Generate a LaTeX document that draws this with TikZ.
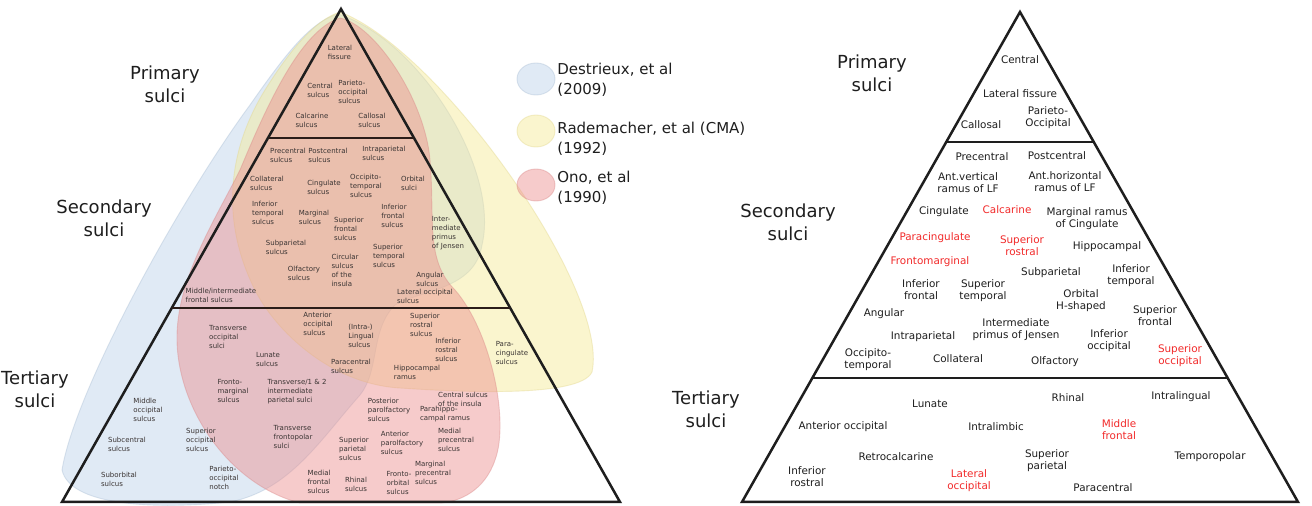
\documentclass[tikz,border=0pt]{standalone}
\usepackage{fontspec}
\setmainfont{DejaVu Sans}
\usepackage{tikz}
\usetikzlibrary{calc}
\definecolor{ink}{HTML}{1E1E1E}
\definecolor{ink2}{HTML}{3A3433}
\definecolor{edge}{HTML}{2B1D19}
\definecolor{hot}{HTML}{F22A2A}
\definecolor{dblue}{HTML}{BCD2EB}
\definecolor{dblueline}{HTML}{A9BDD3}
\definecolor{ryel}{HTML}{F5EA96}
\definecolor{ryelline}{HTML}{E2D68A}
\definecolor{opink}{HTML}{EC8E8E}
\definecolor{opinkline}{HTML}{D98686}

\tikzset{
  tri/.style={line width=1.25pt,color=ink,line join=miter},
  small/.style={font=\fontsize{3.5}{4.5}\selectfont,text=ink2,align=left,inner sep=0pt},
  lbl/.style={font=\fontsize{5.2}{6}\selectfont,text=ink,align=center,inner sep=0pt},
  hotlbl/.style={lbl,text=hot},
  big/.style={font=\fontsize{9}{11.5}\selectfont,text=ink,align=center,inner sep=0pt},
  legtext/.style={font=\fontsize{7.5}{10}\selectfont,text=ink,align=left,anchor=west,inner sep=0pt},
  blob/.style={line width=0.45pt,fill opacity=0.46,draw opacity=0.4},
}

\begin{document}
\begin{tikzpicture}[x=0.5pt,y=-0.5pt]
  \useasboundingbox (0,0) rectangle (1312,506);
  \fill[white] (0,0) rectangle (1312,506);

  % left pyramid
  \coordinate (lt) at (341,9);
  \coordinate (ll) at (62,502);
  \coordinate (lr) at (620,502);

  \filldraw[blob,fill=dblue,draw=dblueline]
    (338,14) .. controls (420,40) and (500,170) .. (482,245)
    .. controls (475,290) and (420,290) .. (395,305)
    .. controls (370,330) and (380,370) .. (360,395)
    .. controls (320,440) and (290,490) .. (230,502)
    .. controls (150,510) and (70,505) .. (62,470)
    .. controls (75,390) and (180,200) .. (250,105)
    .. controls (285,55) and (310,22) .. (338,14) -- cycle;
  \filldraw[blob,fill=ryel,draw=ryelline]
    (340,12) .. controls (440,50) and (610,290) .. (592,372)
    .. controls (580,398) and (460,392) .. (400,388)
    .. controls (330,384) and (275,330) .. (255,290)
    .. controls (220,220) and (228,150) .. (265,90)
    .. controls (290,50) and (315,20) .. (340,12) -- cycle;
  \filldraw[blob,fill=opink,draw=opinkline]
    (340,18) .. controls (375,25) and (425,100) .. (430,160)
    .. controls (435,220) and (425,260) .. (455,290)
    .. controls (490,330) and (510,420) .. (495,460)
    .. controls (485,490) and (460,502) .. (440,503)
    -- (300,503) .. controls (230,485) and (178,410) .. (177,340)
    .. controls (176,280) and (215,220) .. (240,170)
    .. controls (265,110) and (300,30) .. (340,18) -- cycle;

  \draw[tri] (lt) -- (lr) -- (ll) -- cycle;
  \foreach \fr in {0.2617,0.6065}
    \draw[tri,color=edge] ($(lt)!\fr!(ll)$) -- ($(lt)!\fr!(lr)$);

  \node[big] (lprim) at (165,84) {Primary\\sulci};
  \node[big] (lsec) at (104,218) {Secondary\\sulci};
  \node[big] (lter) at (35,389) {Tertiary\\sulci};

  \node[small] (l-latfis) at (340,52) {Lateral\\fissure};
  \node[small] (l-central) at (320,90) {Central\\sulcus};
  \node[small] (l-parocc) at (353,92) {Parieto-\\occipital\\sulcus};
  \node[small] (l-calc) at (312,120) {Calcarine\\sulcus};
  \node[small] (l-call) at (372,120) {Callosal\\sulcus};

  \node[small] (l-prec) at (288,155) {Precentral\\sulcus};
  \node[small] (l-postc) at (328,155) {Postcentral\\sulcus};
  \node[small] (l-intrap) at (384,153) {Intraparietal\\sulcus};
  \node[small] (l-coll) at (267,183) {Collateral\\sulcus};
  \node[small] (l-cing) at (324,187) {Cingulate\\sulcus};
  \node[small] (l-occt) at (366,186) {Occipito-\\temporal\\sulcus};
  \node[small] (l-orb) at (413,183) {Orbital\\sulci};
  \node[small] (l-inft) at (268,213) {Inferior\\temporal\\sulcus};
  \node[small] (l-marg) at (314,217) {Marginal\\sulcus};
  \node[small] (l-supf) at (349,229) {Superior\\frontal\\sulcus};
  \node[small] (l-inff) at (394,216) {Inferior\\frontal\\sulcus};
  \node[small] (l-jensen) at (448,233) {Inter-\\mediate\\primus\\of Jensen};
  \node[small] (l-subpar) at (286,247) {Subparietal\\sulcus};
  \node[small] (l-supt) at (389,256) {Superior\\temporal\\sulcus};
  \node[small] (l-circ) at (345,270) {Circular\\sulcus\\of the\\insula};
  \node[small] (l-olf) at (304,273) {Olfactory\\sulcus};
  \node[small] (l-ang) at (430,279) {Angular\\sulcus};
  \node[small] (l-latocc) at (425,296) {Lateral occipital\\sulcus};
  \node[small] (l-midf) at (221,295) {Middle/intermediate\\frontal sulcus};

  \node[small] (l-antocc) at (318,324) {Anterior\\occipital\\sulcus};
  \node[small] (l-suprost) at (425,325) {Superior\\rostral\\sulcus};
  \node[small] (l-ling) at (361,336) {(Intra-)\\Lingual\\sulcus};
  \node[small] (l-infrost) at (448,350) {Inferior\\rostral\\sulcus};
  \node[small] (l-paracing) at (512,353) {Para-\\cingulate\\sulcus};
  \node[small] (l-transocc) at (228,337) {Transverse\\occipital\\sulci};
  \node[small] (l-lunate) at (268,360) {Lunate\\sulcus};
  \node[small] (l-parac) at (351,366) {Paracentral\\sulcus};
  \node[small] (l-hipp) at (417,372) {Hippocampal\\ramus};
  \node[small] (l-frontm) at (233,391) {Fronto-\\marginal\\sulcus};
  \node[small] (l-transpar) at (297,392) {Transverse/1 \& 2\\intermediate\\parietal sulci};
  \node[small] (l-centins) at (463,399) {Central sulcus\\of the insula};
  \node[small] (l-postpar) at (389,410) {Posterior\\parolfactory\\sulcus};
  \node[small] (l-parahip) at (445,414) {Parahippo-\\campal ramus};
  \node[small] (l-midocc) at (148,410) {Middle\\occipital\\sulcus};
  \node[small] (l-subc) at (127,444) {Subcentral\\sulcus};
  \node[small] (l-supocc) at (201,440) {Superior\\occipital\\sulcus};
  \node[small] (l-subo) at (119,479) {Suborbital\\sulcus};
  \node[small] (l-notch) at (224,478) {Parieto-\\occipital\\notch};
  \node[small] (l-transfp) at (293,437) {Transverse\\frontopolar\\sulci};
  \node[small] (l-suppar) at (354,449) {Superior\\parietal\\sulcus};
  \node[small] (l-antpar) at (402,443) {Anterior\\parolfactory\\sulcus};
  \node[small] (l-medprec) at (456,440) {Medial\\precentral\\sulcus};
  \node[small] (l-margprec) at (433,473) {Marginal\\precentral\\sulcus};
  \node[small] (l-medf) at (319,482) {Medial\\frontal\\sulcus};
  \node[small] (l-rhin) at (356,484) {Rhinal\\sulcus};
  \node[small] (l-frontorb) at (399,483) {Fronto-\\orbital\\sulcus};

  % legend
  \filldraw[blob,fill=dblue,draw=dblueline] (536,79) ellipse (19 and 16);
  \filldraw[blob,fill=ryel,draw=ryelline] (536,131) ellipse (19 and 16);
  \filldraw[blob,fill=opink,draw=opinkline] (536,185) ellipse (19 and 16);
  \node[legtext] (leg-d) at (557,80) {Destrieux, et al\\(2009)};
  \node[legtext] (leg-r) at (557,139) {Rademacher, et al (CMA)\\(1992)};
  \node[legtext] (leg-o) at (557,188) {Ono, et al\\(1990)};

  % right pyramid
  \coordinate (rt) at (1020,12);
  \coordinate (rl) at (742,502);
  \coordinate (rr) at (1298,502);
  \draw[tri] (rt) -- (rr) -- (rl) -- cycle;
  \foreach \fr in {0.2653,0.747}
    \draw[tri] ($(rt)!\fr!(rl)$) -- ($(rt)!\fr!(rr)$);

  \node[big] (rprim) at (872,73) {Primary\\sulci};
  \node[big] (rsec) at (788,222) {Secondary\\sulci};
  \node[big] (rter) at (706,409) {Tertiary\\sulci};

  \node[lbl] (r-central) at (1020,60) {Central};
  \node[lbl] (r-latfis) at (1020,94) {Lateral fissure};
  \node[lbl] (r-call) at (981,125) {Callosal};
  \node[lbl] (r-parocc) at (1048,118) {Parieto-\\Occipital};

  \node[lbl] (r-prec) at (982,157) {Precentral};
  \node[lbl] (r-postc) at (1057,156) {Postcentral};
  \node[lbl] (r-antv) at (968,183) {Ant.vertical\\ramus of LF};
  \node[lbl] (r-anth) at (1065,182) {Ant.horizontal\\ramus of LF};
  \node[lbl] (r-cing) at (944,212) {Cingulate};
  \node[hotlbl] (r-calc) at (1007,210) {Calcarine};
  \node[lbl] (r-marg) at (1087,219) {Marginal ramus\\of Cingulate};
  \node[hotlbl] (r-paracing) at (935,238) {Paracingulate};
  \node[hotlbl] (r-suprost) at (1022,246) {Superior\\rostral};
  \node[lbl] (r-hipp) at (1107,247) {Hippocampal};
  \node[hotlbl] (r-frontm) at (930,262) {Frontomarginal};
  \node[lbl] (r-subpar) at (1051,273) {Subparietal};
  \node[lbl] (r-inft) at (1131,276) {Inferior\\temporal};
  \node[lbl] (r-inff) at (921,290) {Inferior\\frontal};
  \node[lbl] (r-supt) at (983,291) {Superior\\temporal};
  \node[lbl] (r-orb) at (1081,301) {Orbital\\H-shaped};
  \node[lbl] (r-ang) at (884,314) {Angular};
  \node[lbl] (r-supf) at (1155,316) {Superior\\frontal};
  \node[lbl] (r-jensen) at (1016,330) {Intermediate\\primus of Jensen};
  \node[lbl] (r-intrap) at (923,337) {Intraparietal};
  \node[lbl] (r-infocc) at (1109,341) {Inferior\\occipital};
  \node[lbl] (r-occt) at (868,360) {Occipito-\\temporal};
  \node[lbl] (r-coll) at (958,359) {Collateral};
  \node[lbl] (r-olf) at (1055,362) {Olfactory};
  \node[hotlbl] (r-supocc) at (1180,356) {Superior\\occipital};

  \node[lbl] (r-lunate) at (930,404) {Lunate};
  \node[lbl] (r-rhin) at (1068,398) {Rhinal};
  \node[lbl] (r-intral) at (1181,397) {Intralingual};
  \node[lbl] (r-antocc) at (843,427) {Anterior occipital};
  \node[lbl] (r-intralimb) at (996,427) {Intralimbic};
  \node[hotlbl] (r-midf) at (1119,430) {Middle\\frontal};
  \node[lbl] (r-retro) at (896,457) {Retrocalcarine};
  \node[lbl] (r-suppar) at (1047,461) {Superior\\parietal};
  \node[lbl] (r-tempp) at (1210,457) {Temporopolar};
  \node[lbl] (r-infrost) at (807,477) {Inferior\\rostral};
  \node[hotlbl] (r-latocc) at (969,481) {Lateral\\occipital};
  \node[lbl] (r-parac) at (1103,488) {Paracentral};
\end{tikzpicture}
\end{document}
